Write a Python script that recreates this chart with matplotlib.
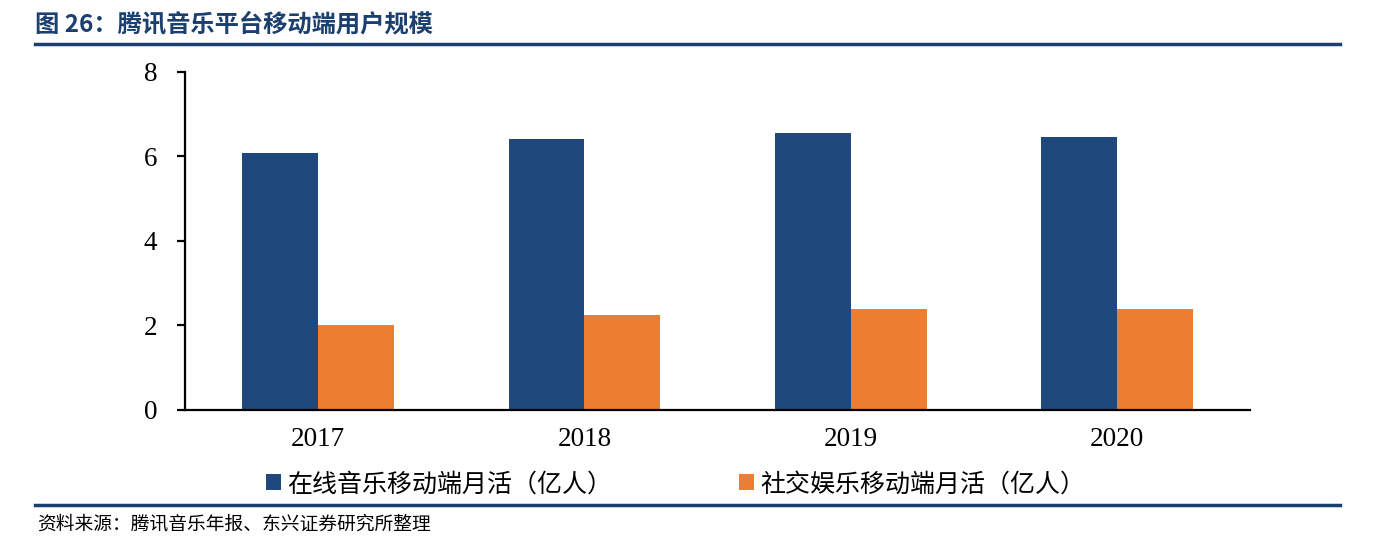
import numpy as np
import matplotlib
matplotlib.use("Agg")
import matplotlib.pyplot as plt
from matplotlib.lines import Line2D

plt.rcParams['font.family'] = ['Noto Sans CJK SC', 'DejaVu Sans']

years = ["2017", "2018", "2019", "2020"]
music_mau = [6.08, 6.41, 6.56, 6.46]
social_mau = [2.01, 2.25, 2.39, 2.39]
series_names = ["在线音乐移动端月活（亿人）", "社交娱乐移动端月活（亿人）"]
yticks = [0, 2, 4, 6, 8]

BLUE = "#1F497D"
ORANGE = "#ED7D31"
NAVY = "#1B3F6E"

fig = plt.figure(figsize=(13.86, 5.47), dpi=100)
ax = fig.add_axes([0.1335, 0.2505, 0.7684, 0.6179])

x = np.arange(len(years))
w = 0.285
ax.bar(x - w / 2, music_mau, w, color=BLUE, label=series_names[0])
ax.bar(x + w / 2, social_mau, w, color=ORANGE, label=series_names[1])

ax.set_xlim(-0.5, len(years) - 0.5)
ax.set_ylim(0, 8)
ax.set_yticks(yticks)
ax.set_xticks(x)
ax.set_xticklabels(years)
for s in ["top", "right"]:
    ax.spines[s].set_visible(False)
for s in ["left", "bottom"]:
    ax.spines[s].set_linewidth(1.6)
ax.tick_params(axis="y", direction="out", length=6, width=1.6, pad=14)
ax.tick_params(axis="x", length=0, pad=12)
for lab in ax.get_xticklabels() + ax.get_yticklabels():
    lab.set_family("Liberation Serif")
    lab.set_fontsize(19.5)

leg = fig.legend(loc="center", bbox_to_anchor=(0.4875, 0.115), ncol=2, frameon=False,
                 fontsize=18, handlelength=0.6, handleheight=0.6, handletextpad=0.25,
                 columnspacing=5.1)

# title and rules
fig.text(0.025, 0.955, "图 26：腾讯音乐平台移动端用户规模", fontsize=17.5, fontweight="bold",
         color=NAVY, va="center", ha="left")
fig.add_artist(Line2D([0.025, 0.967], [0.92, 0.92], color=NAVY, lw=2.5, transform=fig.transFigure))
fig.add_artist(Line2D([0.025, 0.967], [0.077, 0.077], color=NAVY, lw=2.5, transform=fig.transFigure))
fig.text(0.027, 0.042, "资料来源：腾讯音乐年报、东兴证券研究所整理", fontsize=13.5, style="italic",
         color="black", va="center", ha="left")

fig.savefig("out.png", dpi=100)
